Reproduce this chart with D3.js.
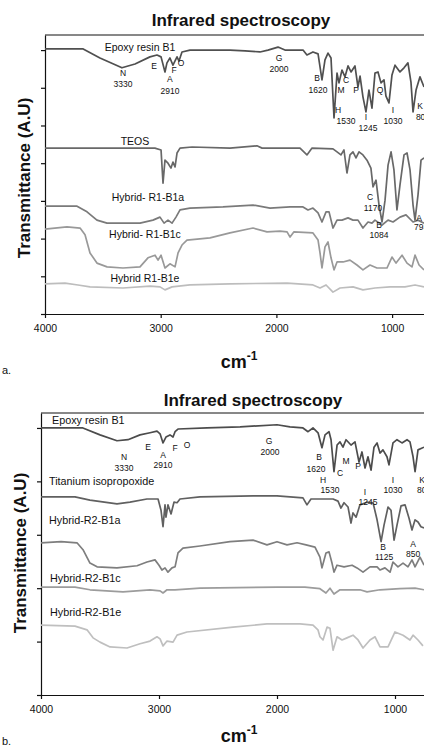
<!DOCTYPE html>
<html>
<head>
<meta charset="utf-8">
<script src="https://cdn.jsdelivr.net/npm/d3@7"></script>
<style>
  body { margin: 0; background: #fff; }
  text { font-family: "Liberation Sans", Arial, sans-serif; fill: #111; }
</style>
</head>
<body>
<div id="chart"></div>
<script>
// wavenumber (cm-1), transmittance (A.U, offset per curve)
const xTicks = [4000, 3000, 2000, 1000];

// ---- panel a ----
const epoxyA = [[4000,7.03],[3670,7.03],[3525,6.79],[3335,6.53],[3222,6.63],[3093,6.82],[3032,6.87],[2997,6.82],[2963,6.42],[2946,6.66],[2920,6.79],[2894,6.60],[2859,6.82],[2842,6.71],[2816,6.95],[2747,7.0],[2401,7.0],[2271,6.98],[2142,6.95],[2073,7.0],[1986,7.08],[1926,7.0],[1770,7.0],[1736,6.87],[1684,6.95],[1640,6.90],[1606,6.21],[1580,6.74],[1554,6.92],[1528,6.79],[1502,5.2],[1476,6.39],[1459,6.13],[1433,6.47],[1407,6.29],[1381,6.58],[1355,6.42],[1321,6.58],[1295,6.02],[1277,6.31],[1252,5.76],[1226,5.36],[1200,5.94],[1174,5.46],[1148,6.39],[1122,6.42],[1096,6.13],[1070,6.21],[1053,5.78],[1027,5.6],[1001,6.34],[975,6.6],[932,6.42],[897,6.53],[863,6.66],[837,6.15],[819,5.36],[793,5.94],[759,6.29],[724,6.02]];
const teosA = [[4000,4.40],[3050,4.40],[2997,4.35],[2980,3.47],[2963,4.08],[2937,4.0],[2911,3.87],[2894,4.03],[2876,3.90],[2859,4.27],[2833,4.40],[2729,4.43],[2401,4.40],[2168,4.46],[2124,4.40],[1796,4.40],[1736,4.22],[1692,4.40],[1511,4.38],[1476,4.30],[1442,4.22],[1416,4.35],[1390,3.74],[1364,4.22],[1338,4.30],[1312,4.14],[1286,4.30],[1252,4.22],[1217,4.08],[1183,3.87],[1165,3.37],[1139,3.55],[1113,2.89],[1087,2.44],[1061,3.02],[1035,3.95],[1009,4.30],[984,3.82],[958,2.76],[932,3.42],[897,4.22],[871,4.27],[845,3.82],[819,2.89],[802,2.49],[776,3.16],[750,4.08],[724,4.14]];
const hybridR1B1a = [[4000,2.86],[3723,2.86],[3637,2.71],[3551,2.49],[3464,2.41],[3179,2.41],[3067,2.49],[3006,2.57],[2971,2.41],[2937,2.49],[2902,2.41],[2868,2.57],[2833,2.76],[2747,2.81],[2462,2.84],[2202,2.89],[2055,2.81],[1882,2.84],[1770,2.84],[1727,2.76],[1684,2.81],[1640,2.68],[1606,2.44],[1571,2.71],[1545,2.71],[1511,2.28],[1476,2.49],[1433,2.49],[1381,2.55],[1338,2.49],[1295,2.49],[1252,2.28],[1208,2.44],[1174,2.41],[1148,2.49],[1087,2.36],[1035,2.49],[992,2.44],[932,2.57],[880,2.63],[819,2.44],[776,2.49],[724,2.41]];
const hybridR1B1c = [[4000,2.25],[3810,2.31],[3697,2.28],[3654,2.10],[3611,1.62],[3551,1.35],[3464,1.25],[3326,1.22],[3179,1.25],[3110,1.49],[3049,1.56],[3023,1.43],[2997,1.56],[2963,1.22],[2920,1.33],[2876,1.25],[2850,1.62],[2816,1.83],[2773,1.96],[2574,2.02],[2401,2.15],[2202,2.28],[2081,2.18],[1969,2.20],[1908,2.18],[1882,2.04],[1848,2.18],[1684,2.15],[1640,1.96],[1623,1.62],[1606,1.22],[1580,1.78],[1554,1.91],[1528,1.49],[1502,1.17],[1476,1.38],[1424,1.38],[1364,1.43],[1304,1.30],[1252,1.17],[1191,1.30],[1131,1.22],[1044,1.22],[1001,1.51],[966,1.35],[914,1.56],[871,1.35],[828,1.25],[802,1.56],[767,1.30],[724,1.17]];
const hybridR1B1e = [[4000,0.80],[3827,0.82],[3715,0.77],[3611,0.72],[3326,0.69],[3093,0.74],[3006,0.72],[2963,0.64],[2902,0.72],[2747,0.77],[2401,0.80],[1908,0.82],[1684,0.77],[1623,0.69],[1571,0.77],[1511,0.58],[1450,0.69],[1338,0.72],[1252,0.64],[1148,0.69],[1018,0.72],[889,0.72],[802,0.77],[724,0.72]];

// ---- panel b ----
const epoxyB = [[4000,5.0],[3645,5.0],[3500,4.87],[3356,4.76],[3263,4.78],[3161,4.87],[3076,4.91],[3017,4.94],[2991,4.89],[2966,4.72],[2941,4.83],[2907,4.87],[2881,4.83],[2864,4.93],[2839,4.98],[2593,5.0],[2313,5.02],[2000,5.06],[1890,5.02],[1780,5.0],[1737,4.93],[1695,5.0],[1652,4.91],[1619,4.63],[1593,4.87],[1559,4.93],[1542,4.78],[1517,4.18],[1491,4.68],[1466,4.74],[1441,4.64],[1415,4.78],[1373,4.68],[1339,4.74],[1305,4.36],[1280,4.55],[1254,4.25],[1229,4.46],[1203,4.21],[1178,4.64],[1152,4.72],[1127,4.53],[1102,4.59],[1068,4.46],[1051,4.31],[1017,4.72],[983,4.78],[941,4.72],[898,4.78],[873,4.74],[847,4.46],[830,4.18],[805,4.59],[754,4.64]];
const titaniumB = [[4000,3.71],[3712,3.71],[3585,3.65],[3356,3.58],[3246,3.61],[3102,3.67],[3008,3.67],[2983,3.46],[2966,3.15],[2949,3.56],[2941,3.33],[2924,3.56],[2898,3.39],[2873,3.61],[2847,3.60],[2822,3.67],[2653,3.71],[2203,3.73],[2000,3.73],[1780,3.69],[1746,3.56],[1712,3.67],[1525,3.67],[1483,3.63],[1458,3.50],[1432,3.60],[1398,3.52],[1373,3.22],[1356,3.41],[1330,3.33],[1297,3.56],[1237,3.61],[1186,3.60],[1152,3.28],[1118,2.87],[1093,3.18],[1059,3.52],[1034,3.46],[1008,2.90],[983,3.18],[949,3.54],[915,3.56],[881,3.31],[856,3.09],[830,3.28],[805,3.24],[780,3.15],[754,3.13]];
const hybridR2B1a = [[4000,2.85],[3830,2.87],[3695,2.85],[3644,2.72],[3585,2.47],[3525,2.40],[3356,2.38],[3186,2.42],[3102,2.49],[3034,2.53],[3000,2.43],[2975,2.34],[2949,2.38],[2924,2.30],[2890,2.38],[2864,2.40],[2839,2.66],[2797,2.75],[2653,2.79],[2398,2.87],[2203,2.90],[2085,2.81],[2000,2.87],[1915,2.81],[1830,2.85],[1754,2.81],[1678,2.77],[1636,2.58],[1619,2.38],[1585,2.66],[1559,2.68],[1534,2.47],[1517,2.30],[1491,2.43],[1432,2.40],[1364,2.43],[1322,2.38],[1271,2.30],[1212,2.40],[1152,2.40],[1127,2.34],[1085,2.38],[1042,2.30],[1017,2.49],[975,2.40],[932,2.47],[890,2.40],[856,2.53],[830,2.40],[788,2.58],[754,2.43]];
const hybridR2B1c = [[4000,2.02],[3712,2.02],[3585,1.97],[3305,1.93],[3076,1.97],[2991,1.95],[2966,1.91],[2932,1.97],[2864,1.97],[2653,2.0],[2000,2.02],[1763,2.02],[1636,1.99],[1585,1.91],[1551,2.0],[1517,1.89],[1466,1.97],[1297,1.97],[1237,1.93],[1127,1.97],[958,1.99],[830,2.0],[754,1.97]];
const hybridR2B1e = [[4000,1.31],[3712,1.29],[3610,1.22],[3559,1.07],[3500,0.99],[3415,0.90],[3271,0.88],[3161,0.96],[3076,1.01],[3017,1.09],[2991,1.05],[2966,0.92],[2932,1.01],[2881,0.99],[2847,1.12],[2763,1.18],[2373,1.27],[2085,1.33],[1805,1.33],[1695,1.31],[1653,1.22],[1636,1.09],[1610,1.03],[1576,1.27],[1551,1.25],[1525,0.84],[1491,1.09],[1449,1.03],[1407,1.07],[1356,1.12],[1313,1.03],[1271,0.88],[1212,1.03],[1169,1.09],[1127,0.90],[1059,0.90],[1000,1.18],[932,1.12],[873,1.03],[847,1.12],[805,1.03],[763,0.92]];

// series names + label anchors [name, wavenumber, value]
const seriesLabelsA = [["Epoxy resin B1",3179,7.08],["TEOS",3222,4.59],["Hybrid- R1-B1a",3110,3.10],["Hybrid- R1-B1c",3136,2.10],["Hybrid R1-B1e",3136,0.95]];
const seriesLabelsB = [["Epoxy resin B1",3907,5.15],["Titanium isopropoxide",3932,4.01],["Hybrid-R2-B1a",3932,3.28],["Hybrid-R2-B1c",3924,2.19],["Hybrid-R2-B1e",3924,1.55]];

// peak annotations [text, wavenumber, value]
const peaksA = [["N",3326,6.39],["3330",3326,6.10],["E",3058,6.58],["A",2920,6.23],["2910",2920,5.92],["F",2885,6.47],["O",2825,6.66],["G",1978,6.79],["2000",1978,6.50],["B",1649,6.26],["1620",1640,5.94],["C",1398,6.21],["M",1442,5.94],["P",1312,5.94],["Q",1105,5.94],["H",1468,5.41],["1530",1398,5.12],["I",1226,5.23],["1245",1208,4.93],["I",992,5.41],["1030",992,5.12],["K",759,5.52],["800",733,5.23],
  ["C",1191,3.10],["1170",1165,2.81],["B",1113,2.36],["1084",1113,2.10],["A",767,2.55],["793",750,2.31]];
const peaksB = [["E",3093,4.64],["N",3297,4.46],["3330",3297,4.25],["A",2966,4.49],["2910",2966,4.31],["F",2864,4.63],["O",2763,4.68],["G",2068,4.76],["2000",2059,4.55],["B",1644,4.46],["1620",1669,4.23],["C",1466,4.16],["M",1415,4.38],["P",1313,4.29],["H",1610,4.03],["1530",1551,3.84],["I",1254,3.80],["1245",1229,3.61],["I",1017,4.03],["1030",1017,3.84],["K",771,4.03],["800",754,3.84],
  ["B",1102,2.77],["1125",1093,2.58],["A",847,2.83],["850",847,2.64]];

const width = 424;
const height = 746;

const svg = d3.select("#chart").append("svg")
  .attr("width", width)
  .attr("height", height);

function drawPanel(opt) {
  const x = d3.scaleLinear().domain([4000, 400]).range([opt.left, opt.left + 3600 * opt.pxPerUnit]);
  const y = d3.scaleLinear().domain([0, opt.yTop]).range([opt.bottom, opt.top]);
  const g = svg.append("g");

  // title
  g.append("text")
    .attr("x", opt.titleX)
    .attr("y", opt.titleY)
    .attr("text-anchor", "middle")
    .style("font-size", "17px")
    .style("font-weight", "bold")
    .text("Infrared spectroscopy");

  // frame top
  g.append("line")
    .attr("x1", x(4000)).attr("x2", x(400))
    .attr("y1", y(opt.yTop)).attr("y2", y(opt.yTop))
    .attr("stroke", "#111").attr("stroke-width", 1);

  // axes
  const xAxis = g.append("g")
    .attr("transform", `translate(0,${opt.bottom})`)
    .call(d3.axisBottom(x).tickValues(xTicks).tickSize(4).tickSizeOuter(0).tickPadding(7).tickFormat(d3.format("d")));
  xAxis.selectAll("text").style("font-size", "10.5px").attr("fill", "#111");

  g.append("g")
    .attr("transform", `translate(${opt.left},0)`)
    .call(d3.axisLeft(y).tickValues(d3.range(0, Math.floor(opt.yTop) + 1)).tickSize(4).tickSizeOuter(0).tickFormat(""));

  g.selectAll(".domain, .tick line").attr("stroke", "#111").attr("stroke-width", 1.2);

  // spectra
  const line = d3.line().x(d => x(d[0])).y(d => y(d[1]));
  opt.series.forEach(s => {
    g.append("path")
      .datum(s.data)
      .attr("d", line)
      .attr("fill", "none")
      .attr("stroke", s.color)
      .attr("stroke-width", 1.7)
      .attr("stroke-linejoin", "round");
  });

  // series names
  g.selectAll(".sname")
    .data(opt.names)
    .enter()
    .append("text")
      .attr("x", d => x(d[1]))
      .attr("y", d => y(d[2]))
      .attr("dy", "0.35em")
      .attr("text-anchor", opt.nameAnchor)
      .style("font-size", opt.nameSize)
      .attr("fill", "#222")
      .text(d => d[0]);

  // peak letters / numbers
  g.selectAll(".peak")
    .data(opt.peaks)
    .enter()
    .append("text")
      .attr("x", d => x(d[1]))
      .attr("y", d => y(d[2]))
      .attr("dy", "0.35em")
      .attr("text-anchor", "middle")
      .style("font-size", "8.5px")
      .attr("fill", "#222")
      .text(d => d[0]);

  // y title
  g.append("text")
    .attr("transform", `translate(${opt.yTitleX},${opt.yTitleY}) rotate(-90)`)
    .attr("text-anchor", "middle")
    .attr("dy", "0.35em")
    .style("font-size", "17px")
    .style("font-weight", "bold")
    .text("Transmittance (A.U)");

  // x title cm-1
  const xt = g.append("text")
    .attr("x", 239)
    .attr("y", opt.xTitleY)
    .attr("text-anchor", "middle")
    .style("font-size", "18px")
    .style("font-weight", "bold");
  xt.append("tspan").text("cm");
  xt.append("tspan").attr("dy", "-8").style("font-size", "12px").text("-1");

  g.append("text")
    .attr("x", 2)
    .attr("y", opt.tagY)
    .style("font-size", "11px")
    .text(opt.tag);
}

drawPanel({
  left: 45, pxPerUnit: 0.1157, top: 35, bottom: 314, yTop: 7.4,
  titleX: 241, titleY: 26, yTitleX: 24, yTitleY: 178, xTitleY: 368, tag: "a.", tagY: 374,
  nameAnchor: "middle", nameSize: "10.5px",
  names: seriesLabelsA, peaks: peaksA,
  series: [
    {data: epoxyA, color: "#505050"},
    {data: teosA, color: "#686868"},
    {data: hybridR1B1a, color: "#7a7a7a"},
    {data: hybridR1B1c, color: "#999999"},
    {data: hybridR1B1e, color: "#bdbdbd"}
  ]
});

drawPanel({
  left: 41, pxPerUnit: 0.118, top: 413, bottom: 695, yTop: 5.28,
  titleX: 253, titleY: 406, yTitleX: 20, yTitleY: 553, xTitleY: 742, tag: "b.", tagY: 745,
  nameAnchor: "start", nameSize: "10.8px",
  names: seriesLabelsB, peaks: peaksB,
  series: [
    {data: epoxyB, color: "#4c4c4c"},
    {data: titaniumB, color: "#606060"},
    {data: hybridR2B1a, color: "#7e7e7e"},
    {data: hybridR2B1c, color: "#9c9c9c"},
    {data: hybridR2B1e, color: "#bfbfbf"}
  ]
});
</script>
</body>
</html>
